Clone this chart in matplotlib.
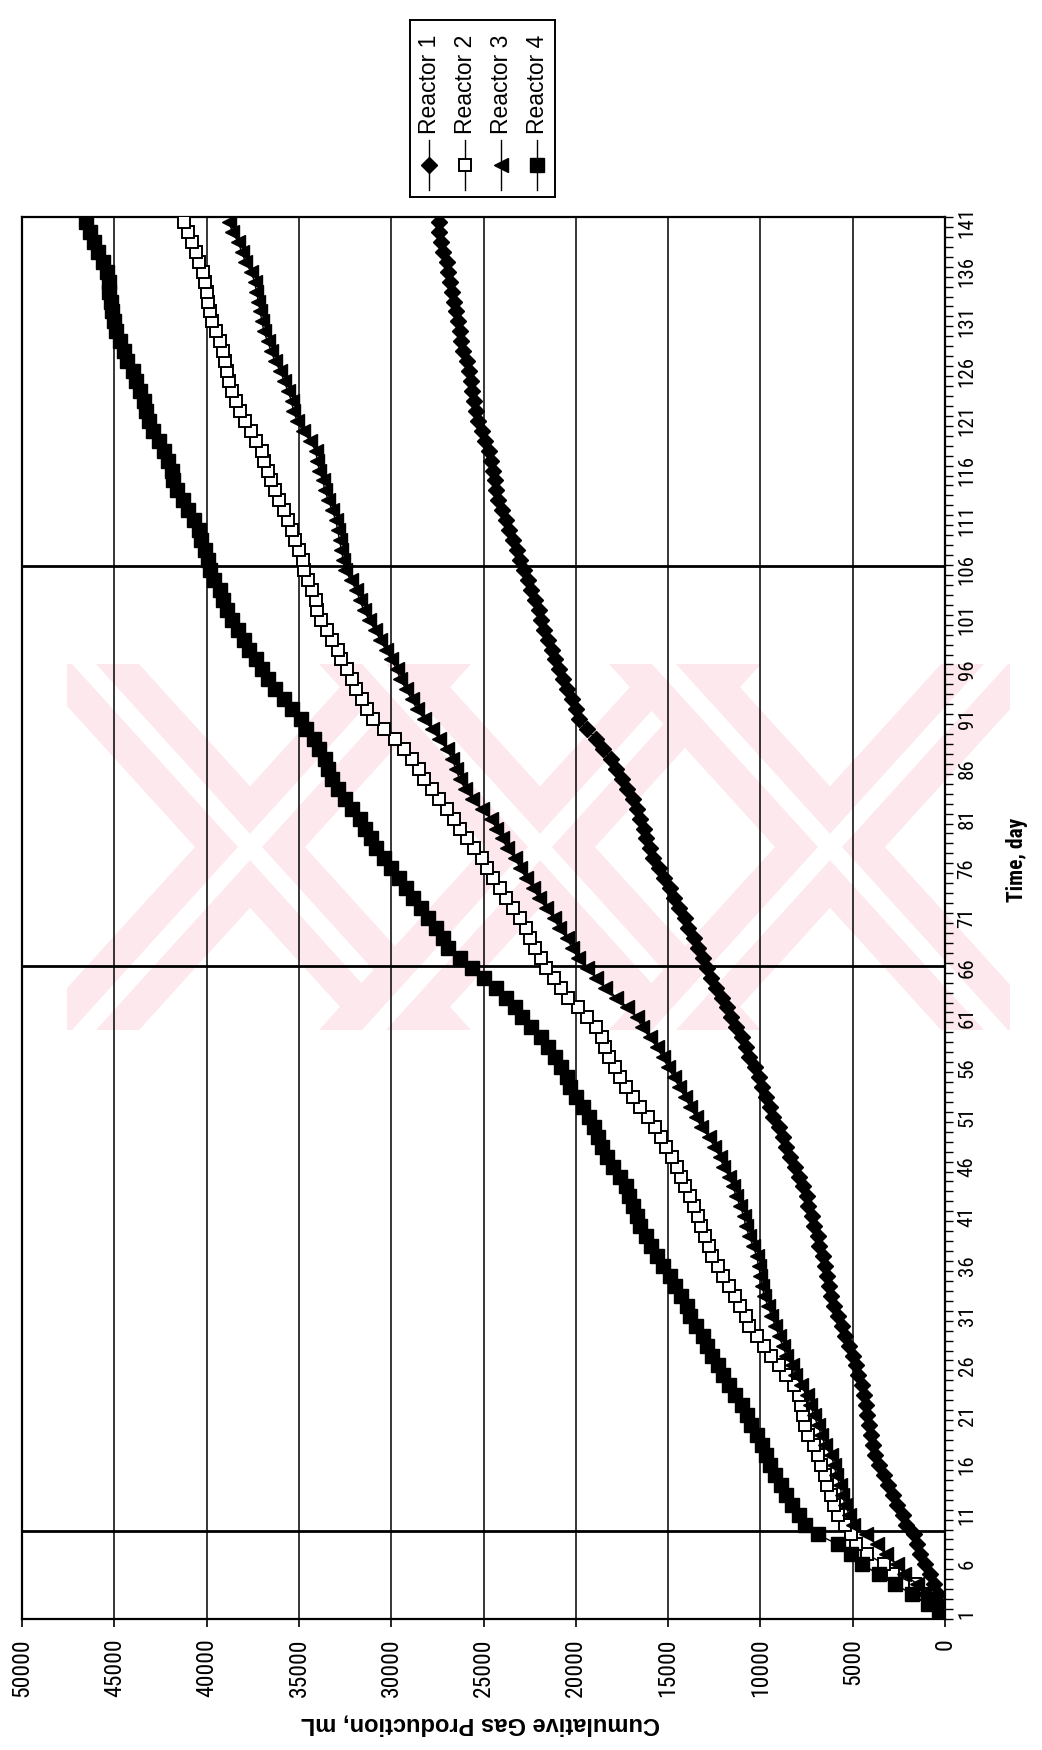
import os
import matplotlib
matplotlib.use("Agg")
import numpy as np
import matplotlib.pyplot as plt
from matplotlib.font_manager import fontManager, FontProperties
from matplotlib.patches import Polygon, Rectangle

# ---- data: cumulative gas production (mL) per day ----
days = list(range(1, 142))

reactor1 = [100, 250, 400, 600, 800, 1100, 1350, 1500, 1700, 2100,
            2300, 2600, 2800, 3100, 3300, 3600, 3800, 3900, 4000, 4100,
            4200, 4300, 4400, 4500, 4700, 4800, 5000, 5200, 5400, 5600,
            5800, 6000, 6200, 6300, 6400, 6500, 6600, 6800, 6900, 7100,
            7200, 7400, 7500, 7700, 7900, 8100, 8400, 8600, 8800, 9000,
            9300, 9500, 9700, 9900, 10100, 10300, 10600, 10800, 11000, 11300,
            11600, 11800, 12100, 12400, 12700, 12900, 13100, 13400, 13600, 13900,
            14100, 14400, 14700, 14900, 15200, 15500, 15800, 16000, 16200, 16300,
            16500, 16700, 16900, 17200, 17500, 17800, 18100, 18500, 18900, 19400,
            19800, 20000, 20200, 20500, 20700, 20900, 21100, 21300, 21500, 21700,
            21900, 22000, 22200, 22400, 22600, 22800, 23000, 23200, 23400, 23600,
            23800, 24000, 24200, 24300, 24400, 24500, 24600, 24700, 24900, 25100,
            25300, 25400, 25500, 25600, 25700, 25800, 25900, 26100, 26200, 26300,
            26400, 26500, 26600, 26700, 26800, 26900, 27000, 27200, 27300, 27400,
            27400]

reactor2 = [300, 600, 1100, 1600, 2800, 3300, 4200, 4800, 5100, 5400,
            5800, 6000, 6200, 6400, 6500, 6700, 6900, 7100, 7400, 7600,
            7700, 7800, 7900, 8200, 8600, 9000, 9400, 9800, 10200, 10600,
            10800, 11100, 11400, 11700, 12000, 12300, 12600, 12800, 13000, 13200,
            13400, 13600, 13800, 14100, 14300, 14500, 14800, 15100, 15400, 15700,
            16100, 16500, 16900, 17300, 17600, 17900, 18200, 18400, 18600, 18900,
            19400, 19900, 20400, 20800, 21200, 21600, 21900, 22200, 22500, 22700,
            23000, 23400, 23800, 24100, 24500, 24800, 25100, 25500, 25900, 26300,
            26600, 27000, 27400, 27800, 28200, 28500, 28900, 29300, 29800, 30400,
            31000, 31300, 31600, 31900, 32100, 32400, 32700, 32900, 33200, 33500,
            33800, 34000, 34100, 34300, 34500, 34700, 34800, 35000, 35200, 35400,
            35600, 35800, 36100, 36300, 36500, 36700, 36900, 37000, 37300, 37600,
            37900, 38200, 38400, 38600, 38800, 38900, 39000, 39100, 39300, 39500,
            39700, 39800, 39900, 40000, 40100, 40200, 40400, 40600, 40800, 41000,
            41200]

reactor3 = [200, 700, 1200, 1500, 2200, 2600, 3200, 3700, 4300, 5000,
            5200, 5400, 5600, 5700, 5900, 6000, 6200, 6500, 6700, 6900,
            7100, 7300, 7500, 7800, 8100, 8300, 8600, 8800, 9000, 9200,
            9400, 9600, 9800, 9900, 10000, 10100, 10200, 10400, 10600, 10800,
            10900, 11100, 11300, 11500, 11700, 12000, 12200, 12500, 12800, 13200,
            13500, 13800, 14100, 14400, 14700, 15000, 15300, 15600, 16000, 16400,
            16700, 17200, 17800, 18400, 18900, 19400, 19900, 20200, 20500, 20900,
            21200, 21600, 22000, 22300, 22700, 23000, 23300, 23700, 24000, 24300,
            24600, 25100, 25600, 26000, 26300, 26500, 26700, 27000, 27400, 27800,
            28200, 28600, 28900, 29200, 29500, 29700, 30000, 30300, 30600, 30900,
            31200, 31500, 31700, 31900, 32200, 32500, 32600, 32700, 32800, 32900,
            33000, 33200, 33400, 33600, 33700, 33900, 34000, 34100, 34400, 34800,
            35100, 35300, 35400, 35600, 35800, 36000, 36300, 36500, 36700, 36900,
            37000, 37100, 37200, 37300, 37400, 37600, 37900, 38100, 38300, 38600,
            38800]

reactor4 = [300, 900, 1800, 2700, 3600, 4500, 5100, 5800, 6900, 7600,
            7900, 8300, 8600, 8900, 9200, 9500, 9700, 9900, 10200, 10500,
            10700, 11000, 11400, 11700, 12000, 12300, 12600, 12900, 13100, 13500,
            13800, 14000, 14300, 14600, 14900, 15300, 15600, 15900, 16200, 16500,
            16700, 16900, 17100, 17300, 17600, 18000, 18300, 18600, 18800, 19000,
            19300, 19600, 20000, 20300, 20500, 20800, 21100, 21500, 21900, 22400,
            22900, 23300, 23800, 24300, 25000, 25600, 26300, 26900, 27200, 27600,
            28000, 28400, 28800, 29200, 29600, 30000, 30400, 30800, 31100, 31400,
            31700, 32100, 32500, 32900, 33200, 33400, 33600, 33900, 34200, 34600,
            34900, 35400, 35800, 36300, 36700, 37000, 37300, 37700, 38000, 38300,
            38600, 38900, 39100, 39300, 39600, 39800, 39900, 40100, 40300, 40400,
            40700, 41000, 41300, 41600, 41800, 41900, 42100, 42300, 42600, 42900,
            43100, 43300, 43400, 43600, 43800, 44000, 44300, 44500, 44700, 44900,
            45000, 45100, 45200, 45300, 45300, 45400, 45600, 45900, 46100, 46300,
            46550]

series_names = ["Reactor 1", "Reactor 2", "Reactor 3", "Reactor 4"]
value_ticks = list(range(0, 50001, 5000))
day_ticks = list(range(1, 142, 5))
divider_days = [9.3, 66.2, 106.4]


# ---- fonts: prefer a narrow sans for the numbers if one is installed ----
def find_font(preferred):
    files = {os.path.basename(f.fname).lower(): f.fname for f in fontManager.ttflist}
    for key in preferred:
        if key.lower() in files:
            return files[key.lower()]
    return None


narrow_regular = find_font(["LiberationSansNarrow-Regular.ttf", "RobotoCondensed-Regular.ttf",
                            "NotoSans-Condensed.ttf", "DejaVuSansCondensed.ttf",
                            "OpenSans-CondensedRegular.ttf"])
narrow_bold = find_font(["LiberationSansNarrow-Bold.ttf", "RobotoCondensed-Bold.ttf",
                         "NotoSans-CondensedBold.ttf", "DejaVuSansCondensed-Bold.ttf",
                         "OpenSans-CondensedBold.ttf"])

plt.rcParams["font.family"] = ["Liberation Sans", "DejaVu Sans"]


def num_font(size_narrow, size_plain):
    if narrow_regular:
        return FontProperties(fname=narrow_regular, size=size_narrow)
    return FontProperties(family="Liberation Sans", size=size_plain)


def bold_font(size_narrow, size_plain):
    if narrow_bold:
        return FontProperties(fname=narrow_bold, size=size_narrow)
    return FontProperties(family="Liberation Sans", weight="bold", size=size_plain)


W, H = 1042, 1750
fig = plt.figure(figsize=(W / 100, H / 100), dpi=100)
fig.patch.set_facecolor("white")

# faint pink stamp printed behind the middle of the sheet
bg = fig.add_axes([0, 0, 1, 1], zorder=0)
bg.set_xlim(0, W)
bg.set_ylim(H, 0)
bg.axis("off")
pink = "#fde8ee"
y_top, y_bot = 664, 1030
stamp_clip = Rectangle((67, y_top), 1010 - 67, y_bot - y_top, transform=bg.transData)
half = 166
for cx in (250, 540, 830):
    for sgn in (-1, 1):
        x0, x1 = cx + sgn * half, cx - sgn * half
        p = bg.add_patch(Polygon([(x0 - 55, y_top), (x0 + 55, y_top), (x1 + 55, y_bot), (x1 - 55, y_bot)],
                                 closed=True, facecolor=pink, edgecolor="none"))
        p.set_clip_path(stamp_clip)
    for sgn in (-1, 1):
        x0, x1 = cx + sgn * half, cx - sgn * half
        p = bg.add_patch(Polygon([(x0 - 12, y_top), (x0 + 12, y_top), (x1 + 12, y_bot), (x1 - 12, y_bot)],
                                 closed=True, facecolor="white", edgecolor="none"))
        p.set_clip_path(stamp_clip)

# the sheet is turned sideways: production runs right-to-left along the
# bottom, time runs bottom-to-top on the right-hand side
ax = fig.add_axes([22 / W, (H - 1619) / H, 923 / W, 1402 / H], zorder=1)
ax.patch.set_alpha(0)
ax.set_xlim(50000, 0)
ax.set_ylim(0.5, 141.5)

styles = [
    dict(marker="D", ms=8.5, mfc="black"),
    dict(marker="s", ms=8.5, mfc="white", mew=1.4),
    dict(marker="<", ms=10, mfc="black"),
    dict(marker="s", ms=9.5, mfc="black"),
]
for vals, st in zip([reactor1, reactor2, reactor3, reactor4], styles):
    ax.plot(vals, days, color="black", lw=1.0, mec="black", zorder=3, **st)

# gridlines at each major value and divider lines across the time axis
ax.set_xticks(value_ticks)
ax.grid(axis="x", color="black", lw=1.1)
ax.set_axisbelow(True)
for d in divider_days:
    ax.axhline(d, color="black", lw=2.0, zorder=2)

for sp in ax.spines.values():
    sp.set_linewidth(1.6)
    sp.set_color("black")

ax.set_xticklabels([str(v) for v in value_ticks], rotation=90)
for lbl in ax.get_xticklabels():
    lbl.set_fontproperties(num_font(17, 15))
ax.tick_params(axis="x", direction="out", length=6, width=1.2, pad=8)

ax.yaxis.tick_right()
ax.set_yticks(day_ticks)
ax.set_yticklabels([str(d) for d in day_ticks], rotation=90, va="center")
for lbl in ax.get_yticklabels():
    lbl.set_fontproperties(num_font(15, 13.5))
ax.set_yticks(np.arange(0.5, 142, 1.0), minor=True)
ax.tick_params(axis="y", which="major", length=0, pad=9)
ax.tick_params(axis="y", which="minor", direction="out", length=6, width=1.0)

fig.text(480 / W, 1 - 1724 / H, "Cumulative Gas Production, mL", rotation=180,
         ha="center", va="center", fontsize=17, fontweight="bold")
fig.text(1017 / W, 1 - 860 / H, "Time, day", rotation=90,
         ha="center", va="center", fontproperties=bold_font(15.5, 13.5))

# legend box drawn in its own pixel-scaled frame
lg = fig.add_axes([410 / W, 1 - 197 / H, 145 / W, 177 / H], zorder=2)
lg.set_xlim(0, 145)
lg.set_ylim(177, 0)
lg.set_xticks([])
lg.set_yticks([])
for sp in lg.spines.values():
    sp.set_linewidth(1.4)
for i, (name, st) in enumerate(zip(series_names, styles)):
    x = 19 + 36 * i
    lg.plot([x, x], [120, 170], color="black", lw=1.0)
    lg.plot([x], [145], color="black", mec="black", **st)
    lg.text(x, 114, name, rotation=90, ha="center", va="bottom", fontsize=16.5)

fig.savefig("out.png", dpi=100, facecolor="white")
